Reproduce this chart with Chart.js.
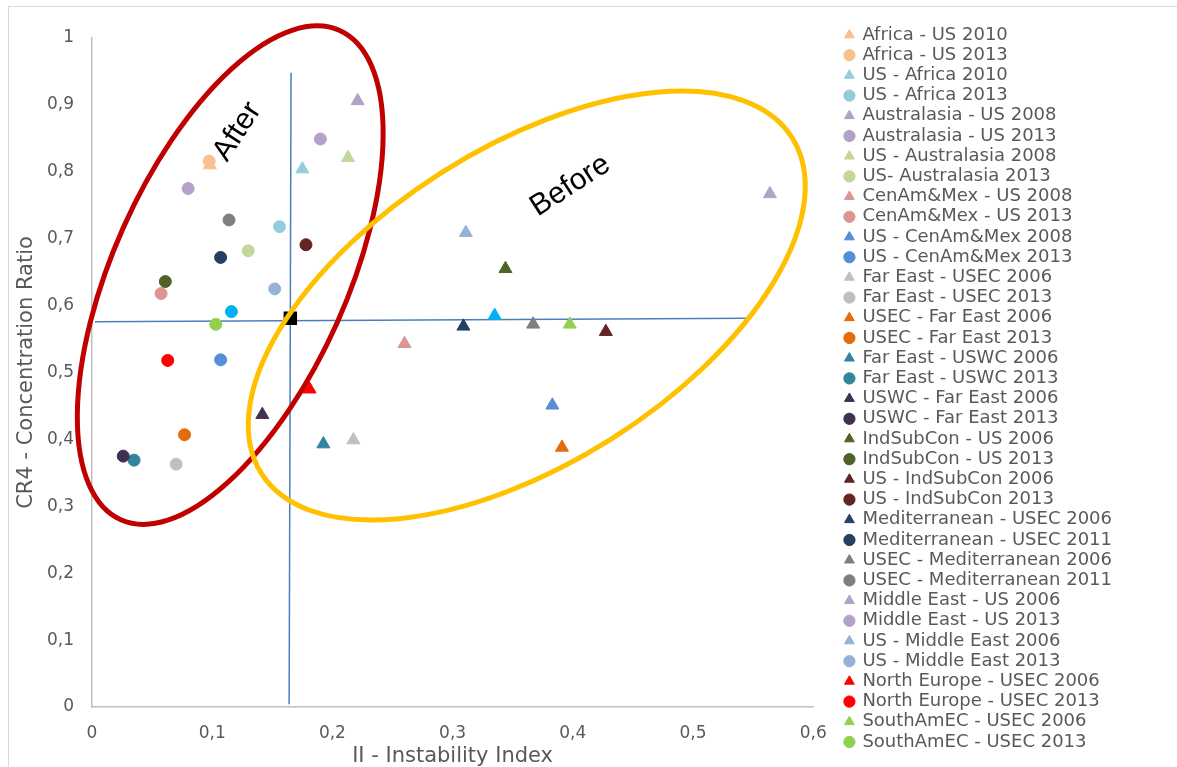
<!DOCTYPE html>
<html>
<head>
<meta charset="utf-8">
<script src="https://cdn.jsdelivr.net/npm/chart.js@4/dist/chart.umd.min.js"></script>
<style>
  html, body { margin: 0; padding: 0; background: #fff; }
</style>
</head>
<body>
<canvas id="chart" width="1177" height="767"></canvas>
<script>
// --- data ---
const seriesNames = [
  'Africa - US 2010', 'Africa - US 2013',
  'US - Africa 2010', 'US - Africa 2013',
  'Australasia - US 2008', 'Australasia - US 2013',
  'US - Australasia 2008', 'US- Australasia 2013',
  'CenAm&Mex - US 2008', 'CenAm&Mex - US 2013',
  'US - CenAm&Mex 2008', 'US - CenAm&Mex 2013',
  'Far East - USEC 2006', 'Far East - USEC 2013',
  'USEC - Far East 2006', 'USEC - Far East 2013',
  'Far East - USWC 2006', 'Far East - USWC 2013',
  'USWC - Far East 2006', 'USWC - Far East 2013',
  'IndSubCon - US 2006', 'IndSubCon - US 2013',
  'US - IndSubCon 2006', 'US - IndSubCon 2013',
  'Mediterranean - USEC 2006', 'Mediterranean - USEC 2011',
  'USEC - Mediterranean 2006', 'USEC - Mediterranean 2011',
  'Middle East - US 2006', 'Middle East - US 2013',
  'US - Middle East 2006', 'US - Middle East 2013',
  'North Europe - USEC 2006', 'North Europe - USEC 2013',
  'SouthAmEC - USEC 2006', 'SouthAmEC - USEC 2013'
];
// II - Instability Index
const instability = [
  0.098, 0.0975, 0.175, 0.156, 0.221, 0.190, 0.213, 0.130, 0.260, 0.0575, 0.383, 0.107,
  0.2175, 0.070, 0.391, 0.077, 0.1925, 0.035, 0.1417, 0.026, 0.344, 0.061, 0.4275, 0.178,
  0.309, 0.107, 0.367, 0.114, 0.564, 0.080, 0.311, 0.152, 0.181, 0.063, 0.3975, 0.103
];
// CR4 - Concentration Ratio
const concentration = [
  0.810, 0.816, 0.804, 0.718, 0.906, 0.849, 0.821, 0.682, 0.543, 0.618, 0.451, 0.519,
  0.399, 0.363, 0.388, 0.407, 0.393, 0.369, 0.437, 0.375, 0.655, 0.636, 0.561, 0.691,
  0.569, 0.672, 0.572, 0.728, 0.767, 0.775, 0.709, 0.625, 0.475, 0.518, 0.572, 0.572
];
// two unlabelled points (not in legend)
const otherX = [0.335, 0.116];
const otherY = [0.585, 0.591];
// centre marker
const centreX = [0.165];
const centreY = [0.581];
// cross lines
const vLineX = [0.1656, 0.164];
const vLineY = [0.948, 0.004];
const hLineX = [0.0025, 0.546];
const hLineY = [0.576, 0.581];

const xTickValues = [0, 0.1, 0.2, 0.3, 0.4, 0.5, 0.6];
const xTickLabels = ['0', '0,1', '0,2', '0,3', '0,4', '0,5', '0,6'];
const yTickValues = [0, 0.1, 0.2, 0.3, 0.4, 0.5, 0.6, 0.7, 0.8, 0.9, 1];
const yTickLabels = ['0', '0,1', '0,2', '0,3', '0,4', '0,5', '0,6', '0,7', '0,8', '0,9', '1'];

// --- styles ---
const pairColors = [
  '#FAC090', '#93CDDD', '#B3A2C7', '#C3D69B', '#D99694', '#558ED5',
  '#BFBFBF', '#E46C0A', '#31859C', '#403151', '#4F6228', '#632523',
  '#254061', '#7F7F7F', '#B3A2C7', '#95B3D7', '#FF0000', '#92D050'
];
const greyText = '#595959';
const padLeft = -60;       // lets the legend have room, y axis width is fixed below
const legendGap = 30;      // space between plot and legend

// freehand shapes in the original (ellipses and their words), anchored in data units
const notes = {
  ellipses: [
    { x: 0.115, y: 0.6455, rx: 268, ry: 117, tilt: 65.9, color: '#C00000' },
    { x: 0.3617, y: 0.600, rx: 314, ry: 158, tilt: 32.3, color: '#FFC000' }
  ],
  words: [
    { x: 0.121, y: 0.860, text: 'After', tilt: 57 },
    { x: 0.398, y: 0.779, text: 'Before', tilt: 33 }
  ]
};

const notesPlugin = {
  id: 'notes',
  afterLayout(chart) {
    chart.legend.left += legendGap;
    chart.legend.right += legendGap;
  },
  beforeDraw(chart) {
    const ctx = chart.ctx;
    ctx.save();
    ctx.strokeStyle = '#D9D9D9';
    ctx.lineWidth = 1;
    ctx.strokeRect(8.5, 6.5, 2000, 2000);
    ctx.restore();
  },
  afterDatasetsDraw(chart) {
    const ctx = chart.ctx;
    const xs = chart.scales.x, ys = chart.scales.y;
    ctx.save();
    notes.ellipses.forEach(e => {
      ctx.beginPath();
      ctx.ellipse(xs.getPixelForValue(e.x), ys.getPixelForValue(e.y), e.rx, e.ry,
        -e.tilt * Math.PI / 180, 0, Math.PI * 2);
      ctx.strokeStyle = e.color;
      ctx.lineWidth = 5;
      ctx.stroke();
    });
    ctx.fillStyle = '#000';
    ctx.font = '30px "Liberation Sans", Arial, sans-serif';
    ctx.textAlign = 'center';
    ctx.textBaseline = 'middle';
    notes.words.forEach(w => {
      ctx.save();
      ctx.translate(xs.getPixelForValue(w.x), ys.getPixelForValue(w.y));
      ctx.rotate(-w.tilt * Math.PI / 180);
      ctx.fillText(w.text, 0, 0);
      ctx.restore();
    });
    ctx.restore();
  }
};

const datasets = seriesNames.map((name, i) => ({
  label: name,
  data: [{ x: instability[i], y: concentration[i] }],
  pointStyle: i % 2 === 0 ? 'triangle' : 'circle',
  pointRadius: i % 2 === 0 ? 7.5 : 6,
  backgroundColor: pairColors[i >> 1],
  borderColor: pairColors[i >> 1],
  borderWidth: 1,
  order: -i
}));

datasets.push({
  label: '',
  data: otherX.map((x, i) => ({ x, y: otherY[i] })),
  pointStyle: ['triangle', 'circle'],
  pointRadius: [7.5, 6],
  backgroundColor: '#00B0F0',
  borderColor: '#00B0F0',
  borderWidth: 1,
  order: -50
});
datasets.push({
  label: '',
  data: centreX.map((x, i) => ({ x, y: centreY[i] })),
  pointStyle: 'rect',
  pointRadius: 9.5,
  backgroundColor: '#000',
  borderColor: '#000',
  borderWidth: 0,
  order: -100
});
[[vLineX, vLineY], [hLineX, hLineY]].forEach(([lx, ly]) => {
  datasets.push({
    label: '',
    data: lx.map((x, i) => ({ x, y: ly[i] })),
    showLine: true,
    pointRadius: 0,
    borderColor: '#4A7EBB',
    borderWidth: 1.5,
    order: 100
  });
});

const tickFont = { family: 'DejaVu Sans', size: 17 };
const titleFont = { family: 'DejaVu Sans', size: 21 };

new Chart(document.getElementById('chart'), {
  type: 'scatter',
  data: { datasets },
  plugins: [notesPlugin],
  options: {
    responsive: false,
    animation: false,
    events: [],
    layout: { padding: { left: padLeft, right: 85, top: 7.4, bottom: -2.6 } },
    scales: {
      x: {
        type: 'linear', min: 0, max: 0.6,
        grid: { display: false, drawTicks: false },
        border: { color: '#BFBFBF', width: 1.5 },
        afterBuildTicks: s => { s.ticks = xTickValues.map(v => ({ value: v })); },
        afterFit: s => { s.height = 62.6; },
        ticks: { padding: 16, color: greyText, font: tickFont, callback: (v, i) => xTickLabels[i] },
        title: { display: true, text: 'II - Instability Index', color: greyText, font: titleFont, padding: { top: 1, bottom: 0 } }
      },
      y: {
        type: 'linear', min: 0, max: 1,
        grid: { display: false, drawTicks: false },
        border: { color: '#BFBFBF', width: 1.5 },
        afterBuildTicks: s => { s.ticks = yTickValues.map(v => ({ value: v })); },
        afterFit: s => { s.width = 92 - padLeft; },
        ticks: { padding: 18, color: greyText, font: tickFont, callback: (v, i) => yTickLabels[i] },
        title: { display: true, text: 'CR4 - Concentration Ratio', color: greyText, font: titleFont, padding: { top: 27 - 12.6 - padLeft, bottom: 0 } }
      }
    },
    plugins: {
      tooltip: { enabled: false },
      title: { display: true, text: '', fullSize: false, font: { size: 12 }, padding: { top: 7, bottom: 9.2 } },
      legend: {
        position: 'right',
        labels: {
          usePointStyle: true,
          boxWidth: 8,
          boxHeight: 8,
          padding: 2.2,
          color: greyText,
          font: { family: 'DejaVu Sans', size: 18 },
          filter: item => item.datasetIndex < seriesNames.length,
          sort: (a, b) => a.datasetIndex - b.datasetIndex
        }
      }
    }
  }
});
</script>
</body>
</html>
